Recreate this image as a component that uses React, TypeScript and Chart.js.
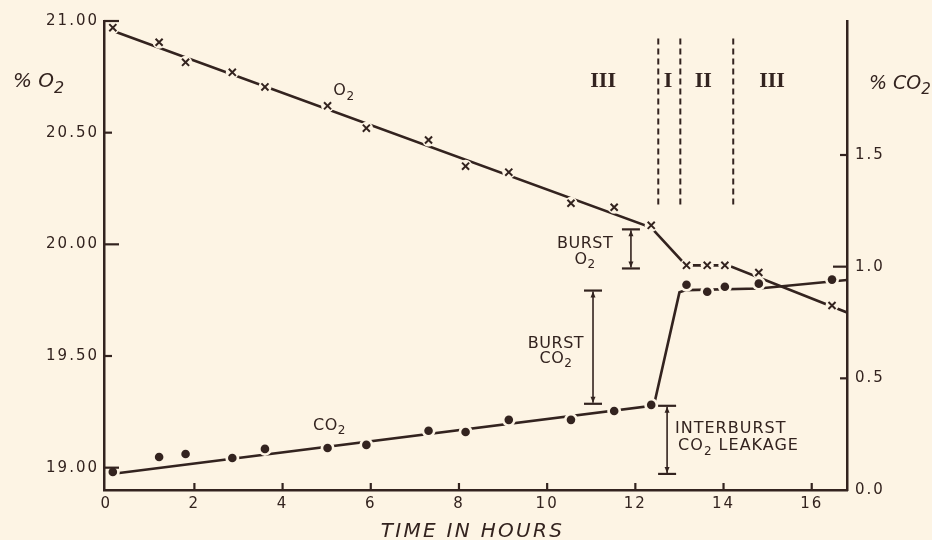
import React, { useEffect, useRef } from 'react';
import { Chart, registerables } from 'chart.js';

Chart.register(...registerables);

// ---------- data ----------
const HOURS = [0.15, 1.2, 1.8, 2.86, 3.6, 5.02, 5.9, 7.31, 8.15, 9.13, 10.54, 11.52, 12.36, 13.16, 13.63, 14.03, 14.8, 16.46];
const O2_PCT = [20.97, 20.905, 20.815, 20.77, 20.705, 20.62, 20.52, 20.467, 20.35, 20.323, 20.184, 20.166, 20.085, 19.906, 19.906, 19.906, 19.874, 19.726];
const CO2_PCT = [0.081, 0.148, 0.161, 0.143, 0.184, 0.188, 0.202, 0.265, 0.26, 0.314, 0.314, 0.354, 0.381, 0.919, 0.888, 0.91, 0.924, 0.942];

const O2_FIT_HOURS = [0.16, 12.36, 13.15, 14.1, 16.8];
const O2_FIT = [20.955, 20.075, 19.906, 19.906, 19.695];
const CO2_FIT_HOURS = [0.25, 12.42, 13.0, 13.15, 14.8, 16.8];
const CO2_FIT = [0.075, 0.378, 0.885, 0.895, 0.902, 0.94];

const X_TICKS = [0, 2, 4, 6, 8, 10, 12, 14, 16];
const O2_TICKS = [19, 19.5, 20, 20.5, 21];
const CO2_TICKS = [0, 0.5, 1, 1.5];

const PHASE_BOUNDS = [12.52, 13.02, 14.22];
const PHASE_BOUND_RANGE = [1.278, 2.027]; // in % CO2 axis units
const PHASE_LABELS = ['III', 'I', 'II', 'III'];
const PHASE_LABEL_HOURS = [11.27, 12.74, 13.54, 15.1];
const PHASE_LABEL_LEVEL = 1.803;

// brackets
const BRACKET_HOURS = [11.9, 11.04, 12.72];
const BRACKET_FROM = [19.892, 0.386, 0.072];
const BRACKET_TO = [20.067, 0.893, 0.377];
const BRACKET_AXIS = ['y', 'y1', 'y1'];

// text labels
const NOTE_TEXT = ['O_2', 'CO_2', 'BURST', 'O_2', 'BURST', 'CO_2', 'INTERBURST', 'CO_2 LEAKAGE'];
const NOTE_HOURS = [5.15, 4.69, 10.86, 10.86, 10.2, 10.2, 12.9, 12.97];
const NOTE_LEVEL = [1.768, 0.269, 1.085, 1.013, 0.637, 0.57, 0.256, 0.179];
const NOTE_ALIGN = ['left', 'left', 'center', 'center', 'center', 'center', 'left', 'left'];

// ---------- styles ----------
const BG = '#fdf4e4';
const INK = '#33231f';
const SANS = '"DejaVu Sans", "Liberation Sans", sans-serif';

function drawRich(
  ctx: CanvasRenderingContext2D,
  text: string,
  x: number,
  y: number,
  align: string,
  size: number,
  spacing: number,
  italic = false
) {
  const parts = text.split(/(_\d)/).filter((p) => p.length > 0);
  const mainFont = `${italic ? 'oblique ' : ''}${size}px ${SANS}`;
  const subFont = `${italic ? 'oblique ' : ''}${Math.round(size * 0.78)}px ${SANS}`;
  ctx.letterSpacing = `${spacing}px`;
  let total = 0;
  const items = parts.map((p) => {
    const sub = p.startsWith('_');
    const t = sub ? p.slice(1) : p;
    ctx.font = sub ? subFont : mainFont;
    const w = ctx.measureText(t).width;
    total += w;
    return { t, sub, w };
  });
  let cx = x;
  if (align === 'center') cx = x - total / 2;
  else if (align === 'right') cx = x - total;
  ctx.textAlign = 'left';
  ctx.textBaseline = 'alphabetic';
  items.forEach((it) => {
    ctx.font = it.sub ? subFont : mainFont;
    ctx.fillText(it.t, cx, y + (it.sub ? size * 0.28 : 0));
    cx += it.w;
  });
}

const decor = {
  id: 'decor',
  beforeDraw(chart: any) {
    chart.ctx.letterSpacing = '2px';
  },
  afterDatasetsDraw(chart: any) {
    const ctx: CanvasRenderingContext2D = chart.ctx;
    const { x, y, y1 } = chart.scales;
    const area = chart.chartArea;
    ctx.save();
    ctx.letterSpacing = '0px';
    ctx.strokeStyle = INK;
    ctx.fillStyle = INK;
    ctx.lineWidth = 2.2;
    const seg = (a: number, b: number, c: number, d: number) => {
      ctx.beginPath();
      ctx.moveTo(a, b);
      ctx.lineTo(c, d);
      ctx.stroke();
    };
    // inward tick marks
    X_TICKS.forEach((v) => {
      if (v === 0) return;
      const px = x.getPixelForValue(v);
      seg(px, area.bottom, px, area.bottom - 7);
    });
    O2_TICKS.forEach((v) => {
      const py = y.getPixelForValue(v);
      const len = Number.isInteger(v) ? 15 : 8;
      seg(area.left, py, area.left + len, py);
    });
    CO2_TICKS.forEach((v) => {
      if (v === 0) return;
      const py = y1.getPixelForValue(v);
      const len = v === 1 ? 14 : 7;
      seg(area.right - len, py, area.right, py);
    });

    // phase boundaries
    ctx.lineWidth = 2;
    ctx.setLineDash([6, 4]);
    PHASE_BOUNDS.forEach((h) => {
      const px = x.getPixelForValue(h);
      seg(px, y1.getPixelForValue(PHASE_BOUND_RANGE[0]), px, y1.getPixelForValue(PHASE_BOUND_RANGE[1]));
    });
    ctx.setLineDash([]);

    // phase labels
    ctx.font = `bold 22px "Liberation Serif", "DejaVu Serif", serif`;
    ctx.textAlign = 'center';
    ctx.textBaseline = 'alphabetic';
    PHASE_LABELS.forEach((t, i) => {
      ctx.fillText(t, x.getPixelForValue(PHASE_LABEL_HOURS[i]), y1.getPixelForValue(PHASE_LABEL_LEVEL));
    });

    // brackets
    BRACKET_HOURS.forEach((h, i) => {
      const sc = chart.scales[BRACKET_AXIS[i]];
      const px = x.getPixelForValue(h);
      const top = sc.getPixelForValue(BRACKET_TO[i]);
      const bot = sc.getPixelForValue(BRACKET_FROM[i]);
      ctx.lineWidth = 2.2;
      seg(px - 9, top, px + 9, top);
      seg(px - 9, bot, px + 9, bot);
      ctx.lineWidth = 1.6;
      seg(px, top + 1, px, bot - 1);
      ctx.beginPath();
      ctx.moveTo(px, top + 1);
      ctx.lineTo(px - 2.5, top + 7);
      ctx.lineTo(px + 2.5, top + 7);
      ctx.closePath();
      ctx.fill();
      ctx.beginPath();
      ctx.moveTo(px, bot - 1);
      ctx.lineTo(px - 2.5, bot - 7);
      ctx.lineTo(px + 2.5, bot - 7);
      ctx.closePath();
      ctx.fill();
    });

    // notes
    NOTE_TEXT.forEach((t, i) => {
      const spacing = t.length > 6 ? 1 : 0.5;
      drawRich(ctx, t, x.getPixelForValue(NOTE_HOURS[i]), y1.getPixelForValue(NOTE_LEVEL[i]), NOTE_ALIGN[i], 16, spacing);
    });

    // axis titles
    drawRich(ctx, '% O_2', 13, 87, 'left', 20, 0, true);
    drawRich(ctx, '% CO_2', 869, 89, 'left', 19, 0, true);
    drawRich(ctx, 'TIME IN HOURS', (area.left + area.right) / 2 - 3, 537, 'center', 20, 2.3, true);
    ctx.restore();
  },
  afterDraw(chart: any) {
    chart.ctx.letterSpacing = '0px';
  },
};

export default function App() {
  const ref = useRef<HTMLCanvasElement | null>(null);
  useEffect(() => {
    if (!ref.current) return;
    const o2Points = HOURS.map((h, i) => ({ x: h, y: O2_PCT[i] }));
    const co2Points = HOURS.map((h, i) => ({ x: h, y: CO2_PCT[i] }));
    const chart = new Chart(ref.current, {
      type: 'scatter',
      data: {
        datasets: [
          {
            label: 'O2',
            data: o2Points,
            yAxisID: 'y',
            showLine: false,
            pointStyle: 'crossRot',
            pointRadius: 5,
            pointBorderWidth: 2,
            borderColor: INK,
            backgroundColor: INK,
          },
          {
            label: 'CO2',
            data: co2Points,
            yAxisID: 'y1',
            showLine: false,
            pointStyle: 'circle',
            pointRadius: 4.3,
            pointBorderWidth: 0,
            borderColor: INK,
            backgroundColor: INK,
          },
          {
            label: 'O2 gap',
            data: o2Points,
            yAxisID: 'y',
            showLine: false,
            pointRadius: 6.5,
            pointBorderWidth: 0,
            borderColor: BG,
            backgroundColor: BG,
          },
          {
            label: 'CO2 gap',
            data: co2Points,
            yAxisID: 'y1',
            showLine: false,
            pointRadius: 7,
            pointBorderWidth: 0,
            borderColor: BG,
            backgroundColor: BG,
          },
          {
            label: 'O2 fit',
            data: O2_FIT_HOURS.map((h, i) => ({ x: h, y: O2_FIT[i] })),
            yAxisID: 'y',
            showLine: true,
            pointRadius: 0,
            borderColor: INK,
            borderWidth: 2.6,
            tension: 0,
          },
          {
            label: 'CO2 fit',
            data: CO2_FIT_HOURS.map((h, i) => ({ x: h, y: CO2_FIT[i] })),
            yAxisID: 'y1',
            showLine: true,
            pointRadius: 0,
            borderColor: INK,
            borderWidth: 2.6,
            tension: 0,
          },
        ],
      },
      options: {
        responsive: false,
        maintainAspectRatio: false,
        devicePixelRatio: 1,
        animation: false,
        events: [],
        layout: { padding: { top: 21, left: 0, right: 0, bottom: 0 } },
        plugins: { legend: { display: false }, tooltip: { enabled: false } },
        scales: {
          x: {
            type: 'linear',
            position: 'bottom',
            min: -0.05,
            max: 16.8,
            afterBuildTicks: (s: any) => {
              s.ticks = X_TICKS.map((v) => ({ value: v }));
            },
            afterFit: (s: any) => {
              s.height = 50;
            },
            grid: { display: false, drawTicks: false },
            border: { display: true, color: INK, width: 2.5 },
            ticks: {
              color: INK,
              font: { family: SANS, size: 15 },
              padding: 5,
              maxRotation: 0,
              callback: (v: any) => String(v),
            },
          },
          y: {
            type: 'linear',
            position: 'left',
            min: 18.9,
            max: 21.0,
            afterBuildTicks: (s: any) => {
              s.ticks = O2_TICKS.map((v) => ({ value: v }));
            },
            afterFit: (s: any) => {
              s.width = 104;
            },
            grid: { display: false, drawTicks: false },
            border: { display: true, color: INK, width: 2.5 },
            ticks: {
              color: INK,
              font: { family: SANS, size: 15 },
              padding: 5,
              callback: (v: any) => Number(v).toFixed(2),
            },
          },
          y1: {
            type: 'linear',
            position: 'right',
            min: 0,
            max: 2.1,
            afterBuildTicks: (s: any) => {
              s.ticks = CO2_TICKS.map((v) => ({ value: v }));
            },
            afterFit: (s: any) => {
              s.width = 85;
            },
            grid: { display: false, drawTicks: false },
            border: { display: true, color: INK, width: 2.5 },
            ticks: {
              color: INK,
              font: { family: SANS, size: 15 },
              padding: 8,
              callback: (v: any) => Number(v).toFixed(1),
            },
          },
        },
      },
      plugins: [decor],
    } as any);
    return () => chart.destroy();
  }, []);

  return (
    <div
      style={{
        position: 'fixed',
        left: 0,
        top: 0,
        width: 932,
        height: 540,
        background: BG,
      }}
    >
      <canvas ref={ref} width={932} height={540} style={{ width: 932, height: 540, display: 'block' }} />
    </div>
  );
}
